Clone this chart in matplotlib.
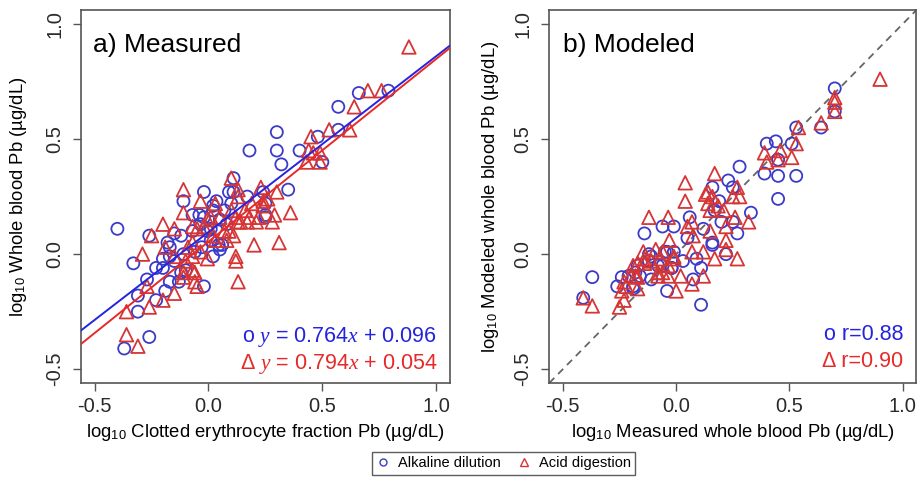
import matplotlib.pyplot as plt
from matplotlib.lines import Line2D

plt.rcParams['font.family'] = ['Liberation Sans', 'DejaVu Sans']
plt.rcParams['mathtext.fontset'] = 'custom'
plt.rcParams['mathtext.rm'] = 'Liberation Sans'
plt.rcParams['mathtext.it'] = 'Liberation Serif:italic'

# === Data (log10 Pb) ===

# a) measured: clotted erythrocyte fraction vs whole blood
meas_alk_x = [-0.40, -0.33, -0.31, -0.31, -0.37, -0.26, -0.26, -0.27, -0.23, -0.23,
              -0.20, -0.17, -0.15, -0.12, -0.11, -0.07, -0.02, -0.18, -0.17, -0.11,
              -0.12, -0.02, 0.02, -0.03, -0.07, -0.005, -0.04, 0.02, 0.045, 0.08,
              0.05, 0.10, 0.11, 0.25, 0.25, 0.24, 0.35, -0.02, 0.01, 0.035,
              0.09, 0.17, 0.25, 0.07, 0.02, -0.035, 0.01, 0.06, 0.05, -0.06,
              0.18, 0.30, 0.30, 0.32, 0.40, 0.57, 0.66, 0.79, 0.48, 0.50,
              0.57, 0.11, -0.15, -0.20, -0.10, -0.13, -0.19, -0.17]
meas_alk_y = [0.11, -0.04, -0.18, -0.25, -0.41, -0.36, 0.08, -0.11, -0.20, -0.06,
              -0.06, -0.12, 0.09, 0.08, 0.23, 0.17, 0.27, 0.05, -0.01, 0.00,
              -0.08, -0.14, -0.01, 0.03, 0.10, 0.10, 0.17, 0.21, 0.04, 0.13,
              0.15, 0.22, 0.27, 0.17, 0.16, 0.27, 0.28, 0.16, 0.06, 0.23,
              0.27, 0.25, 0.22, 0.19, 0.19, 0.13, 0.11, 0.04, 0.02, 0.01,
              0.45, 0.53, 0.45, 0.39, 0.45, 0.64, 0.70, 0.71, 0.51, 0.40,
              0.54, 0.33, -0.03, -0.02, -0.07, -0.12, -0.16, 0.03]

meas_acid_x = [0.88, 0.70, 0.76, 0.64, 0.62, 0.53, 0.45, 0.44, 0.46, 0.49,
               0.43, 0.49, 0.10, -0.11, 0.23, 0.30, -0.11, -0.20, -0.15, -0.25,
               -0.29, -0.19, -0.27, -0.36, -0.26, -0.20, -0.15, -0.36, -0.31, -0.11,
               -0.035, -0.15, -0.10, -0.11, -0.07, -0.06, -0.05, -0.005, -0.035, -0.07,
               -0.09, -0.07, -0.02, 0.01, 0.03, 0.05, 0.09, 0.11, 0.08, 0.12,
               0.13, 0.16, 0.18, 0.17, 0.14, 0.21, 0.20, 0.31, 0.12, 0.13,
               0.29, 0.36, 0.22, 0.24, 0.13, 0.26, 0.24, 0.19, 0.28, 0.13,
               0.10, -0.005, -0.05, 0.07, 0.03, 0.12, -0.07, -0.06, 0.02]
meas_acid_y = [0.90, 0.71, 0.71, 0.64, 0.54, 0.54, 0.51, 0.45, 0.44, 0.44,
               0.40, 0.40, 0.33, 0.28, 0.29, 0.27, 0.18, 0.13, 0.11, 0.08,
               0.00, 0.03, -0.14, -0.25, -0.23, -0.20, -0.17, -0.35, -0.40, -0.08,
               0.23, -0.01, -0.03, -0.10, -0.07, -0.12, -0.14, -0.02, 0.01, 0.05,
               0.03, 0.12, 0.12, 0.16, 0.22, 0.16, 0.10, 0.08, 0.06, 0.16,
               0.25, 0.19, 0.16, 0.14, 0.14, 0.14, 0.04, 0.05, -0.03, -0.12,
               0.17, 0.18, 0.16, 0.23, 0.28, 0.24, 0.21, 0.22, 0.14, 0.14,
               0.19, 0.15, 0.11, 0.10, 0.06, -0.01, -0.01, -0.08, 0.08]

# b) modeled vs measured whole blood
mod_alk_x = [0.70, 0.70, 0.64, 0.53, 0.51, 0.44, 0.40, 0.45, 0.28, 0.39,
             0.45, 0.53, 0.16, 0.23, 0.45, 0.25, 0.19, 0.17, 0.33, 0.27,
             0.25, 0.20, 0.06, -0.01, 0.05, 0.12, 0.16, 0.22, 0.09, 0.03,
             0.11, 0.075, -0.02, -0.14, -0.06, -0.01, -0.05, -0.08, -0.02, -0.04,
             0.11, 0.16, -0.12, -0.18, -0.11, -0.24, -0.19, -0.37, -0.26, -0.41,
             -0.12, -0.04, -0.11, -0.17, -0.21, -0.16, -0.06, -0.19]
mod_alk_y = [0.72, 0.62, 0.55, 0.55, 0.48, 0.49, 0.48, 0.41, 0.38, 0.35,
             0.34, 0.34, 0.29, 0.32, 0.24, 0.29, 0.23, 0.19, 0.18, 0.09,
             0.14, 0.14, 0.16, 0.12, 0.07, 0.11, 0.05, 0.00, -0.02, -0.03,
             -0.06, -0.11, -0.06, 0.09, 0.12, 0.01, 0.01, -0.05, -0.06, -0.16,
             -0.22, 0.04, -0.03, -0.08, -0.11, -0.10, -0.15, -0.10, -0.14, -0.19,
             0.00, 0.01, -0.01, -0.05, -0.095, -0.095, -0.05, -0.14]

mod_acid_x = [0.90, 0.70, 0.70, 0.70, 0.64, 0.54, 0.53, 0.39, 0.46, 0.45,
              0.51, 0.40, 0.17, 0.04, 0.14, 0.27, 0.04, 0.16, 0.13, 0.25,
              0.28, 0.185, 0.14, 0.15, 0.21, 0.32, 0.26, 0.22, 0.07, 0.05,
              0.075, 0.15, 0.22, 0.22, 0.27, 0.17, 0.12, 0.07, 0.12, 0.02,
              -0.01, -0.12, -0.035, -0.145, -0.03, -0.01, -0.07, -0.035, 0.00, 0.07,
              -0.08, -0.11, -0.14, -0.19, -0.20, -0.17, -0.06, -0.23, -0.24, -0.17,
              -0.23, -0.25, -0.37, -0.41, -0.09, -0.06, -0.17, -0.14, -0.18, -0.08,
              -0.035, -0.22]
mod_acid_y = [0.76, 0.68, 0.66, 0.62, 0.57, 0.55, 0.48, 0.44, 0.45, 0.41,
              0.42, 0.40, 0.35, 0.31, 0.27, 0.29, 0.23, 0.25, 0.26, 0.25,
              0.25, 0.21, 0.22, 0.19, 0.19, 0.14, 0.16, 0.12, 0.14, 0.12,
              0.08, 0.10, 0.06, 0.02, -0.02, -0.02, 0.01, 0.01, -0.095, -0.095,
              -0.01, 0.16, 0.16, 0.01, 0.06, -0.02, -0.02, -0.05, -0.16, -0.13,
              -0.095, -0.03, -0.02, -0.05, -0.095, -0.10, -0.08, -0.12, -0.16, -0.15,
              -0.20, -0.23, -0.225, -0.19, 0.02, 0.01, -0.04, -0.04, -0.095, -0.08,
              -0.095, -0.14]

# regression fits reported in panel a
alk_fit = (0.764, 0.096)
acid_fit = (0.794, 0.054)
r_alk = 0.88
r_acid = 0.90

ticks = [-0.5, 0.0, 0.5, 1.0]
lims = (-0.56, 1.06)

blue = "#3b3bc8"
red = "#d63535"
line_blue = "#2424e0"
line_red = "#e62a2a"
frame = "#555555"

fig = plt.figure(figsize=(9.2, 4.83), dpi=100)
ax_a = fig.add_axes([0.088, 0.207, 0.401, 0.772])
ax_b = fig.add_axes([0.597, 0.207, 0.399, 0.772])

for ax in (ax_a, ax_b):
    ax.set_xlim(lims)
    ax.set_ylim(lims)
    ax.set_xticks(ticks)
    ax.set_yticks(ticks)
    ax.set_xticklabels([f"{t:.1f}" for t in ticks])
    ax.set_yticklabels([f"{t:.1f}" for t in ticks], rotation=90, va="center")
    ax.tick_params(length=6, width=1, colors=frame, labelcolor="#2a2a2a",
                   labelsize=14.5)
    ax.tick_params(axis="x", pad=4)
    ax.tick_params(axis="y", pad=6)
    for s in ax.spines.values():
        s.set_color(frame)
        s.set_linewidth(1.2)

mk = dict(facecolors="none", linewidths=1.3)

# --- a) Measured ---
ax_a.scatter(meas_alk_x, meas_alk_y, s=75, marker="o", edgecolors=blue, **mk, zorder=3)
ax_a.scatter(meas_acid_x, meas_acid_y, s=95, marker="^", edgecolors=red, **mk, zorder=3)
ax_a.plot(lims, [alk_fit[0] * x + alk_fit[1] for x in lims], color=line_blue, lw=1.4, zorder=4)
ax_a.plot(lims, [acid_fit[0] * x + acid_fit[1] for x in lims], color=line_red, lw=1.4, zorder=4)
ax_a.text(0.033, 0.906, "a) Measured", transform=ax_a.transAxes, fontsize=19,
          va="center", ha="left")
ax_a.text(0.965, 0.123, r"o $\mathit{y}$ = %.3f$\mathit{x}$ + %.3f" % alk_fit,
          transform=ax_a.transAxes, fontsize=15.5, color=line_blue, ha="right", va="center")
ax_a.text(0.965, 0.051, r"Δ $\mathit{y}$ = %.3f$\mathit{x}$ + %.3f" % acid_fit,
          transform=ax_a.transAxes, fontsize=15.5, color=line_red, ha="right", va="center")
ax_a.set_xlabel(r"log$_{10}$ Clotted erythrocyte fraction Pb (µg/dL)", fontsize=13.3, va="center")
ax_a.set_ylabel(r"log$_{10}$ Whole blood Pb (µg/dL)", fontsize=13.3, va="center")
ax_a.xaxis.set_label_coords(0.5, -0.134)
ax_a.yaxis.set_label_coords(-0.168, 0.5)

# --- b) Modeled ---
ax_b.plot(lims, lims, color="#666666", lw=1.3, ls=(0, (4, 3)), zorder=2)
ax_b.scatter(mod_alk_x, mod_alk_y, s=75, marker="o", edgecolors=blue, **mk, zorder=3)
ax_b.scatter(mod_acid_x, mod_acid_y, s=95, marker="^", edgecolors=red, **mk, zorder=3)
ax_b.text(0.038, 0.906, "b) Modeled", transform=ax_b.transAxes, fontsize=19,
          va="center", ha="left")
ax_b.text(0.965, 0.131, f"o r={r_alk:.2f}", transform=ax_b.transAxes, fontsize=15.5,
          color=line_blue, ha="right", va="center")
ax_b.text(0.965, 0.059, f"Δ r={r_acid:.2f}", transform=ax_b.transAxes, fontsize=15.5,
          color=line_red, ha="right", va="center")
ax_b.set_xlabel(r"log$_{10}$ Measured whole blood Pb (µg/dL)", fontsize=13.3, va="center")
ax_b.set_ylabel(r"log$_{10}$ Modeled whole blood Pb (µg/dL)", fontsize=13.3, va="center")
ax_b.xaxis.set_label_coords(0.5, -0.134)
ax_b.yaxis.set_label_coords(-0.161, 0.5)

# shared legend under the panels
handles = [
    Line2D([], [], ls="none", marker="o", mfc="none", mec=blue, ms=5, mew=1),
    Line2D([], [], ls="none", marker="^", mfc="none", mec=red, ms=6, mew=1),
]
leg = fig.legend(handles, ["Alkaline dilution", "Acid digestion"], ncol=2,
                 loc="center", bbox_to_anchor=(0.547, 0.041), fontsize=10.5,
                 frameon=True, fancybox=False, handlelength=1.0, handletextpad=0.5,
                 columnspacing=1.1, borderpad=0.3)
leg.get_frame().set_edgecolor("#333333")
leg.get_frame().set_linewidth(1.0)

fig.savefig("out.png", dpi=100)
